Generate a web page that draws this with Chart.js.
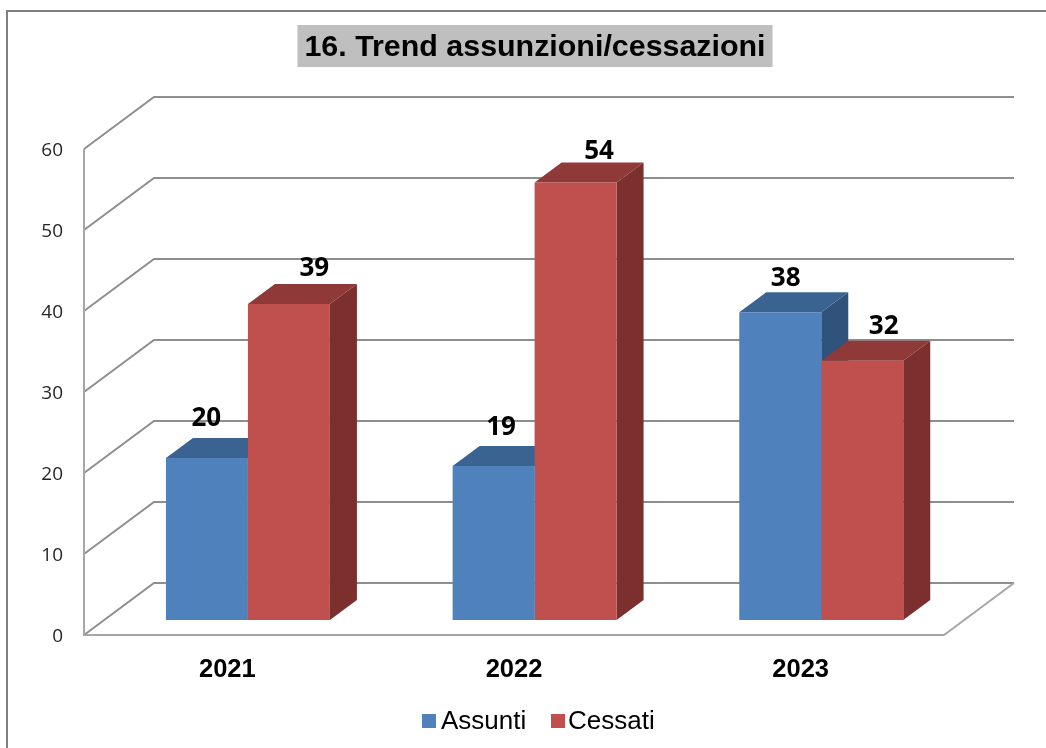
<!DOCTYPE html>
<html>
<head>
<meta charset="utf-8">
<title>Trend assunzioni/cessazioni</title>
<script src="https://cdn.jsdelivr.net/npm/chart.js@4"></script>
<style>
  html, body { margin: 0; padding: 0; background: #fff; overflow: hidden; }
  canvas { display: block; }
</style>
</head>
<body>
<canvas id="myChart" width="1046" height="748"></canvas>
<script>
const categories = ['2021', '2022', '2023'];
const assunti = [20, 19, 38];
const cessati = [39, 54, 32];
const yTicks = [0, 10, 20, 30, 40, 50, 60];

const SANS = '"Liberation Sans", Arial, sans-serif';
const LABEL = '"Open Sans", sans-serif';
const GRID = '#8e8e8e';

// fake 3d: wall depth and how far the bars sit from the front of the floor
const WALL = { x: 70, y: -52 };
const BAR_SHIFT = { x: 20.6, y: -15 };
const BAR_DEPTH = { x: 27, y: -20 };

// hand placed value labels, the original ones are not centred on the bars
const labelDx = [[20, 28, 26], [46, 44, 42]];
const labelDy = [[39.5, 38.5, 33.5], [35.5, 31, 34.5]];

const faces = [
  { top: '#3b6391', side: '#30537c' },
  { top: '#8f3a38', side: '#7b302e' }
];

// legend x positions: square, text
const legendX = [[422, 441], [551, 568]];

function poly(ctx, pts, fill) {
  ctx.beginPath();
  pts.forEach((p, i) => i ? ctx.lineTo(p[0], p[1]) : ctx.moveTo(p[0], p[1]));
  ctx.closePath();
  ctx.fillStyle = fill;
  ctx.fill();
}

const frame3d = {
  id: 'frame3d',
  beforeDraw(chart) {
    const { ctx, titleBlock } = chart;
    ctx.save();
    ctx.strokeStyle = '#7f7f7f';
    ctx.lineWidth = 2;
    ctx.beginPath();
    ctx.moveTo(7, 748);
    ctx.lineTo(7, 11);
    ctx.lineTo(1046, 11);
    ctx.stroke();

    // grey box behind the title
    const font = titleBlock.options.font;
    ctx.font = font.weight + ' ' + font.size + 'px ' + font.family;
    const w = ctx.measureText(titleBlock.options.text).width;
    const cx = (titleBlock.left + titleBlock.right) / 2;
    ctx.fillStyle = '#bfbfbf';
    ctx.fillRect(cx - w / 2 - 7, 25, w + 14, 42);
    ctx.restore();
  },
  beforeDatasetsDraw(chart) {
    const { ctx, chartArea, scales } = chart;
    const l = chartArea.left, r = chartArea.right;
    ctx.save();
    ctx.strokeStyle = GRID;
    ctx.lineWidth = 2;
    yTicks.forEach(v => {
      const y = scales.y.getPixelForValue(v);
      ctx.beginPath();
      ctx.moveTo(l, y);
      ctx.lineTo(l + WALL.x, y + WALL.y);
      ctx.lineTo(r + WALL.x, y + WALL.y);
      ctx.stroke();
    });
    const y0 = scales.y.getPixelForValue(0);
    ctx.strokeStyle = '#a6a6a6';
    ctx.beginPath();
    ctx.moveTo(l, scales.y.getPixelForValue(60));
    ctx.lineTo(l, y0);
    ctx.lineTo(r, y0);
    ctx.lineTo(r + WALL.x, y0 + WALL.y);
    ctx.stroke();

    // sides and tops go first, blue then red, the library paints the fronts after
    ctx.translate(BAR_SHIFT.x, BAR_SHIFT.y);
    chart.data.datasets.forEach((ds, i) => {
      chart.getDatasetMeta(i).data.forEach(bar => {
        const x0 = bar.x - bar.width / 2, x1 = bar.x + bar.width / 2;
        const dx = BAR_DEPTH.x, dy = BAR_DEPTH.y;
        poly(ctx, [[x1, bar.y], [x1 + dx, bar.y + dy], [x1 + dx, bar.base + dy], [x1, bar.base]], faces[i].side);
        poly(ctx, [[x0, bar.y], [x0 + dx, bar.y + dy], [x1 + dx, bar.y + dy], [x1, bar.y]], faces[i].top);
      });
    });
    ctx.restore();
  },
  beforeDatasetDraw(chart) {
    chart.ctx.save();
    chart.ctx.translate(BAR_SHIFT.x, BAR_SHIFT.y);
  },
  afterDatasetDraw(chart) {
    chart.ctx.restore();
  },
  afterDatasetsDraw(chart) {
    const { ctx } = chart;
    ctx.save();
    ctx.font = 'bold 26px ' + LABEL;
    ctx.fillStyle = '#000';
    ctx.textAlign = 'center';
    ctx.textBaseline = 'middle';
    chart.data.datasets.forEach((ds, i) => {
      chart.getDatasetMeta(i).data.forEach((bar, j) => {
        ctx.fillText(ds.data[j], bar.x + labelDx[i][j], bar.y + BAR_SHIFT.y - labelDy[i][j]);
      });
    });
    ctx.restore();
  },
  afterDraw(chart) {
    // library legend can't do the tight square/text gap of the original
    const { ctx } = chart;
    ctx.save();
    ctx.font = '26px ' + SANS;
    ctx.textBaseline = 'middle';
    chart.data.datasets.forEach((ds, i) => {
      ctx.fillStyle = ds.backgroundColor;
      ctx.fillRect(legendX[i][0], 714, 14, 14);
      ctx.fillStyle = '#000';
      ctx.fillText(ds.label, legendX[i][1], 722);
    });
    ctx.restore();
  }
};

const ctx = document.getElementById('myChart').getContext('2d');
new Chart(ctx, {
  type: 'bar',
  data: {
    labels: categories,
    datasets: [
      { label: 'Assunti', data: assunti, backgroundColor: '#4f81bd' },
      { label: 'Cessati', data: cessati, backgroundColor: '#c0504d' }
    ]
  },
  plugins: [frame3d],
  options: {
    responsive: false,
    animation: false,
    layout: { padding: { left: 24, right: 0, top: 0, bottom: 0 } },
    datasets: { bar: { categoryPercentage: 0.572, barPercentage: 1 } },
    scales: {
      x: {
        grid: { display: false },
        border: { display: false },
        ticks: {
          color: '#000',
          padding: 12,
          font: { family: SANS, size: 25.5, weight: 'bold' }
        },
        afterFit(scale) { scale.height = 113; }
      },
      y: {
        min: 0,
        max: 60,
        grid: { display: false },
        border: { display: false },
        ticks: {
          stepSize: 10,
          color: '#262626',
          padding: 13,
          labelOffset: 2,
          font: { family: LABEL, size: 19 }
        },
        afterFit(scale) { scale.width = 60; }
      },
      // empty axis, only keeps room on the right for the wall depth
      spacer: {
        type: 'linear',
        position: 'right',
        grid: { display: false },
        border: { display: false },
        ticks: { display: false },
        afterFit(scale) { scale.width = 102; }
      }
    },
    plugins: {
      tooltip: { enabled: false },
      legend: { display: false },
      title: {
        display: true,
        text: '16. Trend assunzioni/cessazioni',
        color: '#000',
        font: { family: SANS, size: 30.4, weight: 'bold' },
        padding: { top: 29, bottom: 83.5 }
      }
    }
  }
});
</script>
</body>
</html>
